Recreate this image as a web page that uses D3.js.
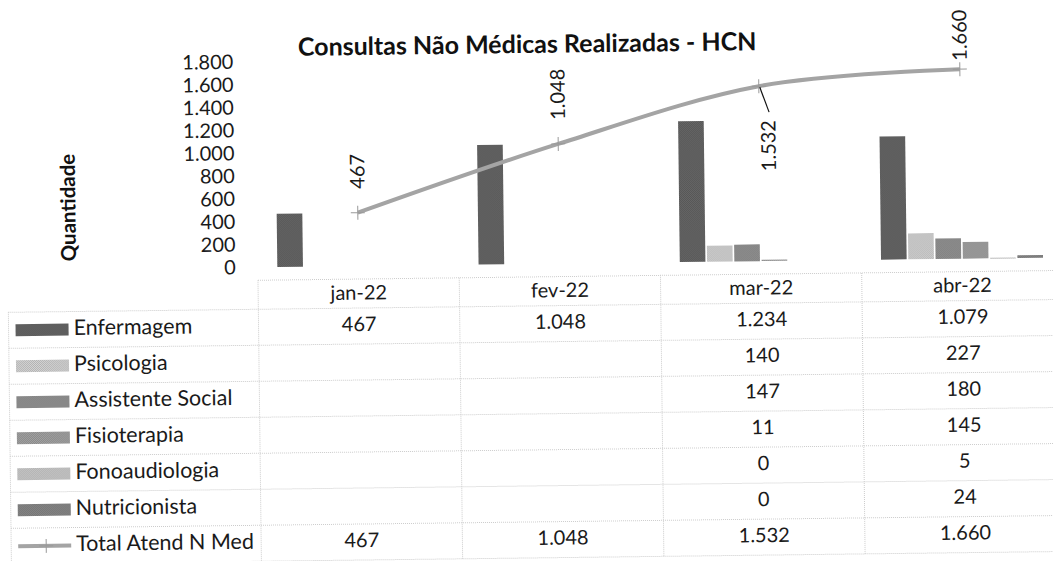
<!DOCTYPE html>
<html>
<head>
<meta charset="utf-8">
<script src="https://cdn.jsdelivr.net/npm/d3@7"></script>
<style>
  body { margin: 0; background: #fff; }
  svg { display: block; font-family: Lato, "Liberation Sans", sans-serif; }
</style>
</head>
<body>
<div id="chart"></div>
<script>
// data
var months = ["jan-22", "fev-22", "mar-22", "abr-22"]
var enfermagem = [467, 1048, 1234, 1079]
var psicologia = [null, null, 140, 227]
var assistenteSocial = [null, null, 147, 180]
var fisioterapia = [null, null, 11, 145]
var fonoaudiologia = [null, null, 0, 5]
var nutricionista = [null, null, 0, 24]
var totalAtend = [467, 1048, 1532, 1660]
var yTicks = [0, 200, 400, 600, 800, 1000, 1200, 1400, 1600, 1800]

var seriesNames = ["Enfermagem", "Psicologia", "Assistente Social", "Fisioterapia", "Fonoaudiologia", "Nutricionista"]
var seriesValues = [enfermagem, psicologia, assistenteSocial, fisioterapia, fonoaudiologia, nutricionista]
var seriesColors = ["#565656", "#b2b2b2", "#7c7c7c", "#888888", "#ababab", "#727272"]
var totalName = "Total Atend N Med"

var locale = d3.formatLocale({decimal: ",", thousands: ".", grouping: [3], currency: ["R$", ""]})
var fmt = locale.format(",d")

var width = 1053, height = 561

var svg = d3.select("#chart").append("svg")
    .attr("width", width)
    .attr("height", height)

svg.append("rect").attr("width", width).attr("height", height).attr("fill", "#fff")

// halftone-ish fills like the scanned original
var defs = svg.append("defs")
seriesColors.forEach((c, i) => {
    var p = defs.append("pattern")
        .attr("id", "pat" + i)
        .attr("width", 2).attr("height", 2)
        .attr("patternUnits", "userSpaceOnUse")
    p.append("rect").attr("width", 2).attr("height", 2).attr("fill", c)
    p.append("rect").attr("width", 1).attr("height", 1).attr("fill", d3.color(c).brighter(0.5))
    p.append("rect").attr("x", 1).attr("y", 1).attr("width", 1).attr("height", 1).attr("fill", d3.color(c).brighter(0.5))
})

// the scan is slightly tilted
var g = svg.append("g").attr("transform", "rotate(-0.7 526 280)")

var x0 = d3.scaleBand().domain(months).range([258, 1063])
var x1 = d3.scaleBand().domain(seriesNames).range([19.5, 181.5]).paddingInner(0.06)
var y = d3.scaleLinear().domain([0, 1800]).range([264, 58.5])

// title
g.append("text")
    .attr("x", 530).attr("y", 53)
    .attr("text-anchor", "middle")
    .attr("font-weight", "bold")
    .attr("font-size", 25)
    .attr("fill", "#111")
    .text("Consultas Não Médicas Realizadas - HCN")

// y axis
var yAxis = g.append("g")
    .attr("transform", "translate(238,0)")
    .call(d3.axisLeft(y).tickValues(yTicks).tickFormat(fmt).tickSize(0).tickPadding(2))
yAxis.select(".domain").remove()
yAxis.selectAll("text")
    .attr("font-family", "Lato, sans-serif")
    .attr("font-size", 20)
    .attr("fill", "#1a1a1a")

g.append("text")
    .attr("transform", "translate(71,202) rotate(-90)")
    .attr("text-anchor", "middle")
    .attr("dominant-baseline", "middle")
    .attr("font-weight", "bold")
    .attr("font-size", 20.5)
    .attr("fill", "#111")
    .text("Quantidade")

// bars
seriesNames.forEach((name, si) => {
    var vals = months.map((m, mi) => ({month: m, v: seriesValues[si][mi]})).filter(d => d.v !== null && d.v > 0)
    g.selectAll(".bar" + si)
        .data(vals)
        .enter()
        .append("rect")
        .attr("x", d => x0(d.month) + x1(name))
        .attr("y", d => y(d.v))
        .attr("width", x1.bandwidth())
        .attr("height", d => Math.max(1, y(0) - y(d.v)))
        .attr("fill", "url(#pat" + si + ")")
})

// total line
var pts = months.map((m, i) => ({x: x0(m) + x0.bandwidth() / 2, y: y(totalAtend[i]), v: totalAtend[i]}))

var line = d3.line().x(d => d.x).y(d => d.y).curve(d3.curveCardinal.tension(0))

g.append("path")
    .attr("d", line(pts))
    .attr("fill", "none")
    .attr("stroke", "#a4a4a4")
    .attr("stroke-width", 4)

pts.forEach(p => {
    g.append("path")
        .attr("d", `M${p.x - 7},${p.y}H${p.x + 7}M${p.x},${p.y - 7}V${p.y + 7}`)
        .attr("stroke", "#999")
        .attr("stroke-width", 1)
})

// line labels (vertical)
pts.forEach((p, i) => {
    var t = g.append("text")
        .attr("font-size", 20)
        .attr("fill", "#1a1a1a")
        .attr("dominant-baseline", "middle")
        .text(fmt(p.v))
    var len = t.node().getComputedTextLength()
    if (i === 2) {
        // label dragged below the point, with a leader line
        var lx = p.x + 11, top = p.y + 34
        t.attr("text-anchor", "end")
            .attr("transform", `translate(${lx},${top}) rotate(-90)`)
        g.append("line")
            .attr("x1", lx - 1).attr("y1", top - 8)
            .attr("x2", p.x + 1).attr("y2", p.y + 1)
            .attr("stroke", "#111").attr("stroke-width", 1.2)
    } else {
        var start = Math.max(p.y - 24, 15 + len)
        t.attr("text-anchor", "start")
            .attr("transform", `translate(${p.x + 2},${start}) rotate(-90)`)
    }
})

// data table
var tableTop = 277, headerH = 29, rowH = 36
var rowsTop = tableTop + headerH
var nRows = seriesNames.length + 1
var tableBottom = rowsTop + nRows * rowH
var gridColor = "#cccccc"

// header row line and row lines
g.append("line")
    .attr("x1", x0.range()[0]).attr("x2", x0.range()[1])
    .attr("y1", tableTop).attr("y2", tableTop)
    .attr("stroke", gridColor).attr("stroke-dasharray", "1,1")
d3.range(nRows + 1).forEach(r => {
    g.append("line")
        .attr("x1", 8).attr("x2", x0.range()[1])
        .attr("y1", rowsTop + r * rowH).attr("y2", rowsTop + r * rowH)
        .attr("stroke", gridColor).attr("stroke-dasharray", "1,1")
})
// column lines
g.append("line")
    .attr("x1", 8).attr("x2", 8)
    .attr("y1", rowsTop).attr("y2", tableBottom)
    .attr("stroke", gridColor).attr("stroke-dasharray", "1,1")
months.forEach(m => {
    g.append("line")
        .attr("x1", x0(m)).attr("x2", x0(m))
        .attr("y1", tableTop).attr("y2", tableBottom)
        .attr("stroke", gridColor).attr("stroke-dasharray", "1,1")
})

// header labels
g.selectAll(".colhead")
    .data(months)
    .enter()
    .append("text")
    .attr("x", d => x0(d) + x0.bandwidth() / 2)
    .attr("y", tableTop + headerH / 2 + 1)
    .attr("text-anchor", "middle")
    .attr("dominant-baseline", "middle")
    .attr("font-size", 20)
    .attr("fill", "#1a1a1a")
    .text(d => d)

var tableRows = seriesNames.map((n, i) => ({name: n, vals: seriesValues[i], idx: i}))
tableRows.push({name: totalName, vals: totalAtend, idx: -1})

tableRows.forEach((r, ri) => {
    var cy = rowsTop + ri * rowH + rowH / 2
    if (r.idx >= 0) {
        g.append("rect")
            .attr("x", 15).attr("y", cy - 6)
            .attr("width", 53).attr("height", 12)
            .attr("fill", "url(#pat" + r.idx + ")")
    } else {
        g.append("line")
            .attr("x1", 15).attr("x2", 68).attr("y1", cy).attr("y2", cy)
            .attr("stroke", "#a4a4a4").attr("stroke-width", 4)
        g.append("path")
            .attr("d", `M36,${cy}H50M43,${cy - 7}V${cy + 7}`)
            .attr("stroke", "#999").attr("stroke-width", 1)
    }
    g.append("text")
        .attr("x", 73).attr("y", cy)
        .attr("dominant-baseline", "middle")
        .attr("font-size", 21.5)
        .attr("fill", "#1a1a1a")
        .text(r.name)
    months.forEach((m, mi) => {
        if (r.vals[mi] === null) return
        g.append("text")
            .attr("x", x0(m) + x0.bandwidth() / 2)
            .attr("y", cy)
            .attr("text-anchor", "middle")
            .attr("dominant-baseline", "middle")
            .attr("font-size", 20)
            .attr("fill", "#1a1a1a")
            .text(fmt(r.vals[mi]))
    })
})
</script>
</body>
</html>
